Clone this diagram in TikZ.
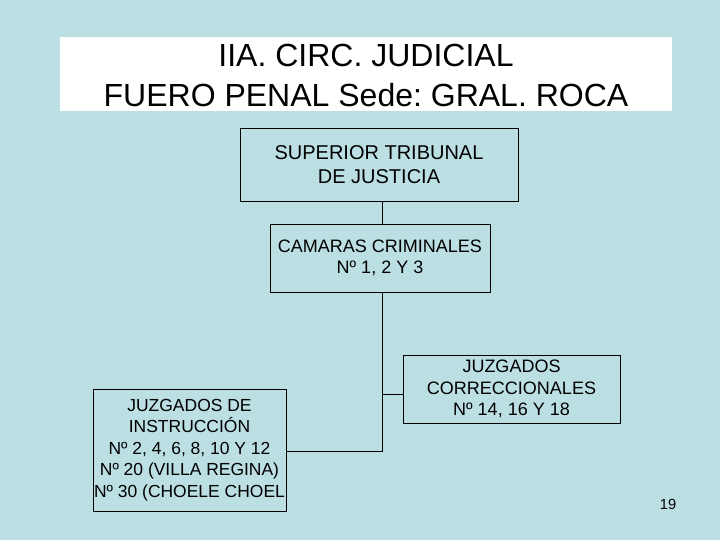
\documentclass[tikz,border=0pt]{standalone}
\usepackage{fontspec}
\setmainfont{Liberation Sans}
\frenchspacing
\definecolor{bgc}{HTML}{BBDFE3}
\begin{document}
\begin{tikzpicture}[x=0.75pt,y=-0.75pt,
  orgbox/.style={draw=black,line width=0.75pt,rectangle,inner sep=0pt,align=center,font=\fontsize{13.5}{16.2}\selectfont},
  conn/.style={draw=black,line width=0.75pt}]
\fill[bgc] (0,0) rectangle (720,540);
\useasboundingbox (0,0) rectangle (720,540);
\fill[white] (60,37) rectangle (672,111);
\node[align=center,font=\fontsize{24}{29.5}\selectfont] (title) at (366,75.5) {IIA. CIRC. JUDICIAL\\FUERO PENAL Sede: GRAL. ROCA};
\node[orgbox,minimum width=278*0.75pt,minimum height=73*0.75pt,font=\fontsize{15}{18}\selectfont] (stj) at (379,164.5) {SUPERIOR TRIBUNAL\\DE JUSTICIA};
\node[orgbox,minimum width=220*0.75pt,minimum height=68*0.75pt] (cam) at (380,258) {CAMARAS CRIMINALES\\Nº 1, 2 Y 3};
\node[orgbox,minimum width=217*0.75pt,minimum height=68*0.75pt] (corr) at (511.5,389) {JUZGADOS\\CORRECCIONALES\\Nº 14, 16 Y 18};
\node[orgbox,minimum width=193*0.75pt,minimum height=122*0.75pt,font=\fontsize{13.1}{16.2}\selectfont] (instr) at (189.5,450) {JUZGADOS DE\\INSTRUCCIÓN\\Nº 2, 4, 6, 8, 10 Y 12\\Nº 20 (VILLA REGINA)\\Nº 30 (CHOELE CHOEL};
\coordinate (j1) at (382.5,394);
\coordinate (j2) at (382.5,451);
\draw[conn] (stj.south -| j1) -- (cam.north -| j1);
\draw[conn] (cam.south -| j1) -- (j2) -- (instr.east |- j2);
\draw[conn] (j1) -- (corr.west |- j1);
\node[font=\fontsize{11}{12}\selectfont] (pg) at (668,504) {19};
\end{tikzpicture}
\end{document}
